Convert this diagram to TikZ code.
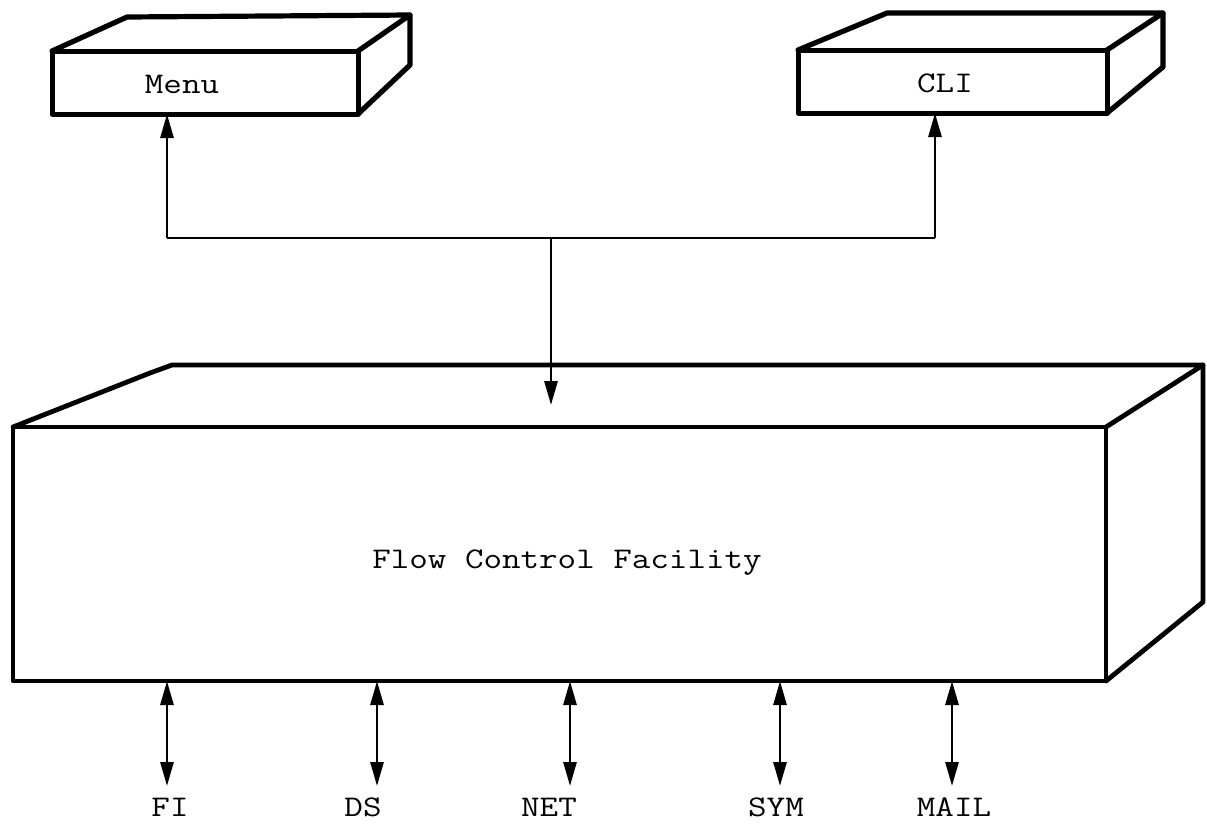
\documentclass[tikz,border=0pt]{standalone}
\usepackage{graphicx}
\usetikzlibrary{arrows.meta}
\begin{document}
\begin{tikzpicture}[x=1pt,y=-1pt,
  face/.style={draw, line width=5pt, line join=round, outer sep=0pt, inner sep=0pt},
  edge3d/.style={line width=5.2pt, line join=round, line cap=round},
  txt/.style={font=\fontsize{30}{34}\selectfont\ttfamily, inner sep=0pt, anchor=base},
  arr/.style={line width=2.8pt, -{Triangle[length=24pt,width=13pt]}},
  dblarr/.style={line width=2.8pt, {Triangle[length=24pt,width=13pt]}-{Triangle[length=24pt,width=13pt]}}]
\useasboundingbox (0,0) rectangle (1207,823);

% Menu box
\node[face, minimum width=306pt, minimum height=63pt] (menu) at (205,82.5) {};
\draw[edge3d] (menu.north west) -- (127,17) -- (410,15) -- (menu.north east);
\draw[edge3d] (410,15) -- (410,65) -- (menu.south east);
\node[txt] (menu-lbl) at (182,93) {\scalebox{1.2}[1]{Menu}};

% CLI box
\node[face, minimum width=309pt, minimum height=63pt] (cli) at (952.5,81.5) {};
\draw[edge3d] (cli.north west) -- (887,13) -- (1163,13) -- (cli.north east);
\draw[edge3d] (1163,13) -- (1163,67) -- (cli.south east);
\node[txt] (cli-lbl) at (945,92) {\scalebox{1.2}[1]{CLI}};

% Flow Control Facility box
\node[face, line width=4.6pt, minimum width=1093pt, minimum height=254pt] (fcf) at (559.5,554) {};
\draw[edge3d, line width=4.8pt] (fcf.north west) -- (150,373) -- (172,365) -- (1203,365) -- (fcf.north east);
\draw[edge3d, line width=4.8pt] (1203,365) -- (1203,602) -- (fcf.south east);
\node[txt] (fcf-lbl) at (567,568) {\scalebox{1.2}[1]{Flow Control Facility}};

% bus between the two front ends and the facility
\coordinate (bus-l) at (167,238);
\coordinate (bus-r) at (935,238);
\coordinate (bus-m) at (551,238);
\coordinate (fcf-in) at (551,405);
\draw[arr] (bus-l) -- (bus-l |- menu.south);
\draw[arr] (bus-r) -- (bus-r |- cli.south);
\draw[line width=2.8pt] (bus-l) -- (bus-r);
\draw[arr] (bus-m) -- (fcf-in);

% services below the facility
\node[txt] (fi)   at (170,816) {\scalebox{1.2}[1]{FI}};
\node[txt] (ds)   at (363,816) {\scalebox{1.2}[1]{DS}};
\node[txt] (net)  at (549,816) {\scalebox{1.2}[1]{NET}};
\node[txt] (sym)  at (776,816) {\scalebox{1.2}[1]{SYM}};
\node[txt] (mail) at (954,816) {\scalebox{1.2}[1]{MAIL}};

\coordinate (fi-end)   at (167,786);
\coordinate (ds-end)   at (377,786);
\coordinate (net-end)  at (570,786);
\coordinate (sym-end)  at (780,786);
\coordinate (mail-end) at (952,786);
\foreach \s in {fi,ds,net,sym,mail}
  \draw[dblarr] (fcf.south -| \s-end) -- (\s-end);
\end{tikzpicture}
\end{document}
